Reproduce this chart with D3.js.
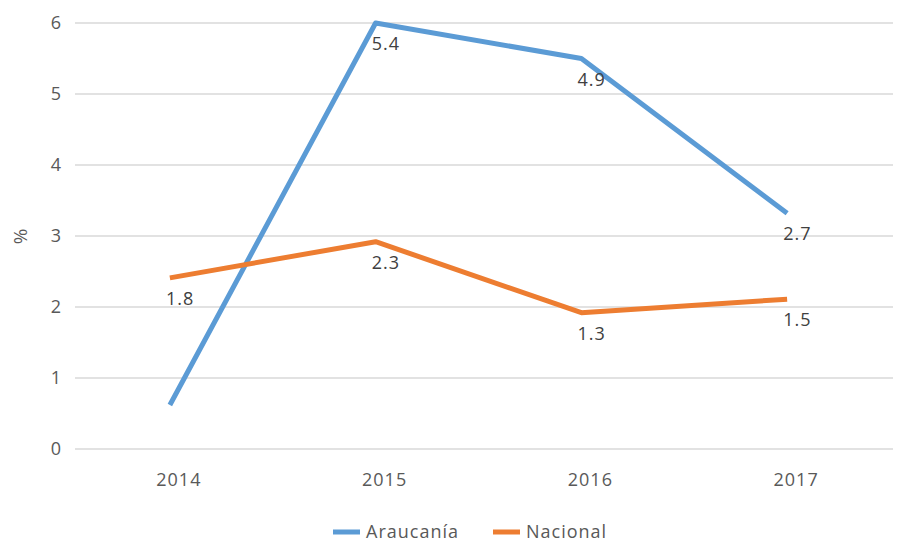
<!DOCTYPE html>
<html lang="es">
<head>
  <meta charset="UTF-8">
  <title>Araucanía vs Nacional</title>
  <script src="https://d3js.org/d3.v7.min.js"></script>
  <style>
    body { margin: 0; background: #fff; font-family: "Open Sans", sans-serif; }
    svg { display: block; }
    text { letter-spacing: 1px; }
  </style>
</head>
<body>
  <script>
    const years = ["2014", "2015", "2016", "2017"];
    const araucania = [0.62, 6.0, 5.5, 3.32];
    const nacional = [2.41, 2.92, 1.92, 2.11];
    // labels as printed in the original (they don't match the plotted points)
    const araucaniaLabels = [null, "5.4", "4.9", "2.7"];
    const nacionalLabels = ["1.8", "2.3", "1.3", "1.5"];
    const yTicks = [0, 1, 2, 3, 4, 5, 6];

    const series = [
      { name: "Araucanía", values: araucania, labels: araucaniaLabels, color: "#5b9bd5" },
      { name: "Nacional", values: nacional, labels: nacionalLabels, color: "#ed7d31" }
    ];

    const width = 898, height = 543;
    const margin = { top: 23, right: 5, bottom: 94, left: 75 };

    const svg = d3.select("body").append("svg")
      .attr("width", width)
      .attr("height", height);

    const x = d3.scaleBand()
      .domain(years)
      .range([67, 890]);
    const cx = d => x(d) + x.bandwidth() / 2;

    const y = d3.scaleLinear()
      .domain([0, 6])
      .range([height - margin.bottom, margin.top]);

    // gridlines
    svg.append("g")
      .selectAll("line")
      .data(yTicks)
      .join("line")
      .attr("x1", margin.left)
      .attr("x2", width - margin.right)
      .attr("y1", d => y(d))
      .attr("y2", d => y(d))
      .attr("stroke", "#d9d9d9")
      .attr("stroke-width", 1.5);

    // y tick labels
    svg.append("g")
      .selectAll("text")
      .data(yTicks)
      .join("text")
      .attr("x", 62)
      .attr("y", d => y(d))
      .attr("dy", "0.35em")
      .attr("text-anchor", "end")
      .attr("font-size", 18)
      .attr("fill", "#595959")
      .text(d => d);

    // x tick labels
    svg.append("g")
      .selectAll("text")
      .data(years)
      .join("text")
      .attr("x", d => cx(d) + 9)
      .attr("y", y(0) + 37)
      .attr("text-anchor", "middle")
      .attr("font-size", 18)
      .attr("fill", "#595959")
      .text(d => d);

    // y axis title
    svg.append("text")
      .attr("transform", `translate(27, ${y(3)}) rotate(-90)`)
      .attr("text-anchor", "middle")
      .attr("font-size", 19)
      .attr("fill", "#595959")
      .text("%");

    const line = d3.line()
      .x((d, i) => cx(years[i]))
      .y(d => y(d));

    series.forEach(s => {
      svg.append("path")
        .datum(s.values)
        .attr("fill", "none")
        .attr("stroke", s.color)
        .attr("stroke-width", 5)
        .attr("stroke-linejoin", "round")
        .attr("d", line);
    });

    // data labels
    series.forEach(s => {
      svg.append("g")
        .selectAll("text")
        .data(s.values.map((v, i) => ({ v, i, label: s.labels[i] })).filter(d => d.label))
        .join("text")
        .attr("x", d => cx(years[d.i]) - 4)
        .attr("y", d => y(d.v) + 27)
        .attr("font-size", 18)
        .attr("fill", "#404040")
        .text(d => d.label);
    });

    // legend
    const legendX = [333, 493];
    const legend = svg.append("g")
      .selectAll("g")
      .data(series)
      .join("g")
      .attr("transform", (d, i) => `translate(${legendX[i]}, 532)`);

    legend.append("line")
      .attr("x1", 0)
      .attr("x2", 27)
      .attr("stroke", d => d.color)
      .attr("stroke-width", 5);

    legend.append("text")
      .attr("x", 33)
      .attr("dy", "0.35em")
      .attr("font-size", 18)
      .attr("fill", "#595959")
      .text(d => d.name);
  </script>
</body>
</html>
